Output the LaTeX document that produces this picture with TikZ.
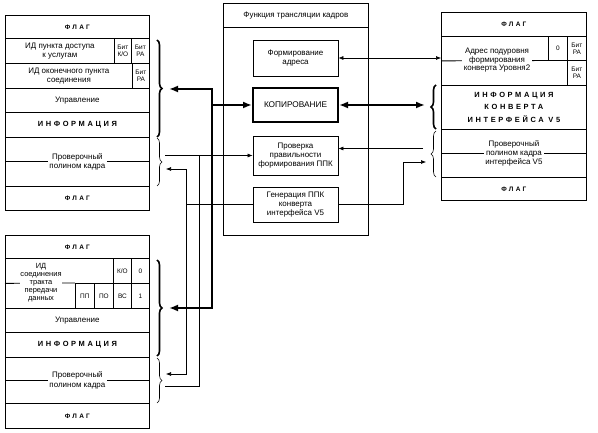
\documentclass[tikz,border=0pt]{standalone}
\usepackage{fontspec}
\setmainfont{Liberation Sans}
\newfontfamily\spacedfont[LetterSpace=35]{Liberation Sans}
\usetikzlibrary{arrows.meta,decorations.pathreplacing,calc}
\newcommand\txt{\fontsize{8}{9.3}\selectfont}
\newcommand\bittxt{\fontsize{6.5}{7}\selectfont}
\newcommand\flag{{\spacedfont\bfseries\fontsize{6.5}{7}\selectfont ФЛАГ}}
\newcommand\wide{\spacedfont\bfseries\fontsize{7.5}{12.5}\selectfont}

\begin{document}
\begin{tikzpicture}[x=1bp, y=-1bp,
	cell/.style={draw, line width=0.8bp, inner sep=0pt, anchor=north west, align=center, font=\txt},
	bitcell/.style={cell, font=\bittxt},
	inbox/.style={draw, line width=0.8bp, inner sep=0pt, align=center, font=\txt, minimum width=85bp},
	gap/.style={fill=white, inner sep=1.5bp, align=center, font=\txt},
	bigbrace/.style={decorate, decoration={brace, amplitude=5bp}, line width=1.6bp},
	smallbrace/.style={decorate, decoration={brace, amplitude=5bp}, line width=0.6bp},
	bigarrow/.style={line width=2.4bp, -{Latex[length=9bp, width=7bp]}},
	thinarrow/.style={line width=0.6bp, -{Latex[length=5bp, width=4bp]}}]
		%%%%% START %%%%%
		\fill[white] (0,0) rectangle (598,433);
		\useasboundingbox (0,0) rectangle (598,433);
		
		% upper left frame
		\node[cell, minimum width=144bp, minimum height=23bp] (tlflagA) at (5,15) {\flag};
		\node[cell, minimum width=109bp, minimum height=25bp] (tlsap) at (5,38) {ИД пункта доступа\\к услугам};
		\node[bitcell, minimum width=17bp, minimum height=25bp] (tlko) at (114,38) {Бит\\К/О};
		\node[bitcell, minimum width=18bp, minimum height=25bp] (tlraA) at (131,38) {Бит\\РА};
		\node[cell, minimum width=127bp, minimum height=25bp] (tltei) at (5,63) {ИД оконечного пункта\\соединения};
		\node[bitcell, minimum width=17bp, minimum height=25bp] (tlraB) at (132,63) {Бит\\РА};
		\node[cell, minimum width=144bp, minimum height=24bp] (tlctrl) at (5,88) {Управление};
		\node[cell, minimum width=144bp, minimum height=25bp] (tlinfo) at (5,112) {\wide ИНФОРМАЦИЯ};
		\node[cell, minimum width=144bp, minimum height=49bp] (tlcrc) at (5,137) {};
		\draw[line width=0.8bp] (tlcrc.west) -- (tlcrc.east);
		\node[gap] at (tlcrc) {Проверочный\\полином кадра};
		\node[cell, minimum width=144bp, minimum height=24bp] (tlflagB) at (5,186) {\flag};
		\draw[bigbrace] (157,40) -- (157,137);
		\draw[smallbrace] (157,138) -- (157,186);
		
		% lower left frame
		\node[cell, minimum width=144bp, minimum height=23bp] (blflagA) at (5,235) {\flag};
		\node[cell, minimum width=144bp, minimum height=50bp] (blvc) at (5,258) {};
		\draw[line width=0.8bp] (blvc.west) -- (75,283);
		\node[bitcell, minimum width=18bp, minimum height=25bp] (blko) at (113,258) {К/О};
		\node[bitcell, minimum width=18bp, minimum height=25bp] (blzero) at (131,258) {0};
		\node[bitcell, minimum width=19bp, minimum height=25bp] (blpp) at (75,283) {ПП};
		\node[bitcell, minimum width=19bp, minimum height=25bp] (blpo) at (94,283) {ПО};
		\node[bitcell, minimum width=18bp, minimum height=25bp] (blbc) at (113,283) {ВС};
		\node[bitcell, minimum width=18bp, minimum height=25bp] (blone) at (131,283) {1};
		\node[gap, inner sep=0.5bp, font=\fontsize{7.5}{8}\selectfont] (blvctext) at (41,283) {ИД\\соединения\\тракта\\передачи\\данных};
		\node[cell, minimum width=144bp, minimum height=24bp] (blctrl) at (5,308) {Управление};
		\node[cell, minimum width=144bp, minimum height=25bp] (blinfo) at (5,332) {\wide ИНФОРМАЦИЯ};
		\node[cell, minimum width=144bp, minimum height=46bp] (blcrc) at (5,357) {};
		\draw[line width=0.8bp] (blcrc.west) -- (blcrc.east);
		\node[gap] at (blcrc) {Проверочный\\полином кадра};
		\node[cell, minimum width=144bp, minimum height=25bp] (blflagB) at (5,403) {\flag};
		\draw[bigbrace] (157,260) -- (157,356);
		\draw[smallbrace] (157,358) -- (157,403);
		
		% frame translation functions
		\node[cell, minimum width=145bp, minimum height=232bp] (ftf) at (223,3) {};
		\node[cell, minimum width=145bp, minimum height=24bp] (fttitle) at (223,3) {Функция трансляции кадров};
		\node[inbox, minimum height=36bp] (fa) at (295.5,58) {Формирование\\адреса};
		\node[inbox, minimum height=34bp, line width=2bp] (copy) at (295.5,105) {\fontsize{8.3}{9}\selectfont КОПИРОВАНИЕ};
		\node[inbox, minimum height=39bp] (chk) at (295.5,155.5) {Проверка\\правильности\\формирования ППК};
		\node[inbox, minimum height=35bp] (gen) at (295.5,204.5) {Генерация ППК\\конверта\\интерфейса V5};
		
		% right frame
		\node[cell, minimum width=145bp, minimum height=24bp] (rflagA) at (441,12) {\flag};
		\node[cell, minimum width=145bp, minimum height=49bp] (raddr) at (441,36) {};
		\draw[line width=0.8bp] (raddr.west) -- (567,60.5);
		\node[bitcell, minimum width=19bp, minimum height=24.5bp] (rzero) at (548,36) {0};
		\node[bitcell, minimum width=19bp, minimum height=24.5bp] (rraA) at (567,36) {Бит\\РА};
		\node[bitcell, minimum width=19bp, minimum height=24.5bp] (rraB) at (567,60.5) {Бит\\РА};
		\node[gap, font=\fontsize{8}{8.6}\selectfont] (raddrtext) at (497,60.5) {Адрес подуровня\\формирования\\конверта Уровня2};
		\node[cell, minimum width=145bp, minimum height=44bp, font=\fontsize{7.5}{12.5}\selectfont] (rinfo) at (441,85) {{\wide ИНФОРМАЦИЯ}\\{\wide КОНВЕРТА}\\{\wide ИНТЕРФЕЙСА V5}};
		\node[cell, minimum width=145bp, minimum height=48bp] (rcrc) at (441,129) {};
		\draw[line width=0.8bp] (rcrc.west) -- (rcrc.east);
		\node[gap, font=\fontsize{8}{8.8}\selectfont] at (rcrc) {Проверочный\\полином кадра\\интерфейса V5};
		\node[cell, minimum width=145bp, minimum height=23bp] (rflagB) at (441,177) {\flag};
		\draw[bigbrace] (436,129) -- (436,85);
		\draw[smallbrace] (436,177) -- (436,131);
		
		% connectors
		\coordinate (bus) at (212,105);
		\coordinate (tlbr) at (169,89);
		\coordinate (blbr) at (169,308);
		\draw[bigarrow] (bus) |- (tlbr);
		\draw[bigarrow] (bus) |- (blbr);
		\draw[bigarrow] (bus) -- (copy.west);
		
		\coordinate (tlout) at (165,155.5);
		\coordinate (tap) at (199,155.5);
		\coordinate (blout) at (165,386);
		\draw[thinarrow] (tlout) -- (tlout -| chk.west);
		\draw[line width=0.6bp] (blout) -| (tap);
		
		\coordinate (genx) at (186,204.5);
		\coordinate (tlin) at (166,169);
		\coordinate (blin) at (166,374);
		\draw[line width=0.6bp] (gen.west) -- (genx);
		\draw[thinarrow] (genx) |- (tlin);
		\draw[thinarrow] (genx) |- (blin);
		
		\coordinate (rbr) at (425,105);
		\coordinate (rcrcout) at (423,148.5);
		\coordinate (rbend) at (403,162);
		\coordinate (rcrcin) at (426,162);
		\draw[thinarrow, {Latex[length=5bp, width=4bp]}-{Latex[length=5bp, width=4bp]}] (fa.east) -- (fa.east -| raddr.west);
		\draw[bigarrow, {Latex[length=9bp, width=7bp]}-{Latex[length=9bp, width=7bp]}] (copy.east) -- (rbr);
		\draw[thinarrow] (rcrcout) -- (rcrcout -| chk.east);
		\draw[thinarrow] (gen.east) -| (rbend) -- (rcrcin);
		%%%%% END %%%%%
	\end{tikzpicture}
\end{document}
